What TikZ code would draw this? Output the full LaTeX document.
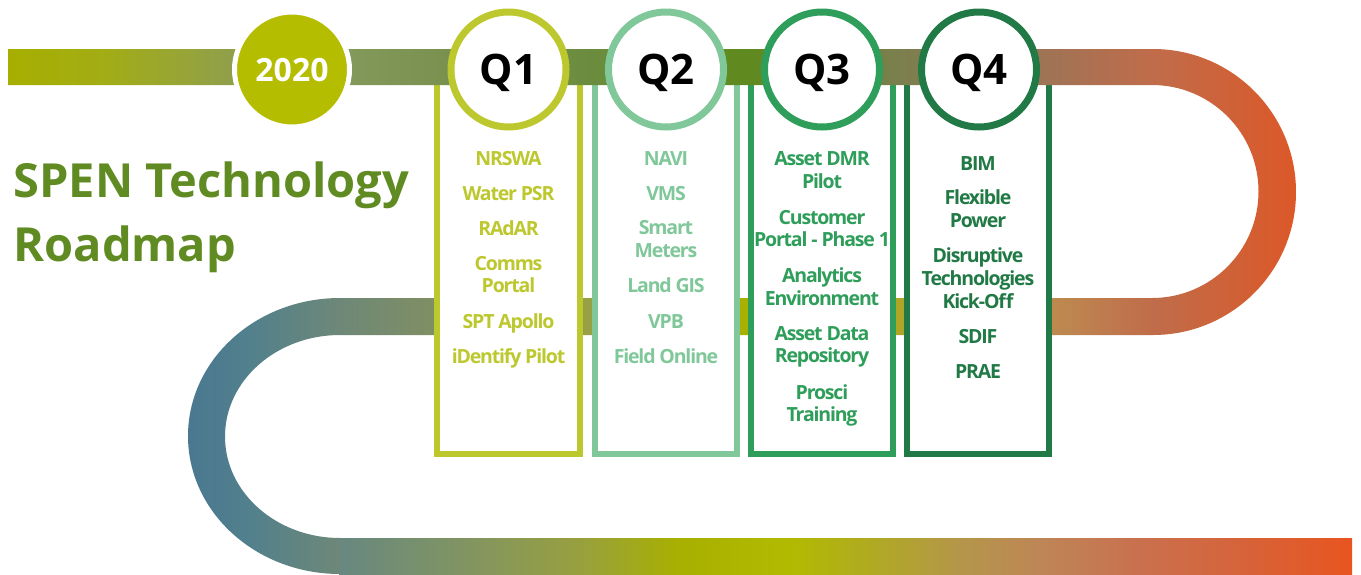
\documentclass[tikz,border=0pt]{standalone}
\usepackage{fontspec}
\setmainfont{Open Sans}
\newfontfamily\itemfont{Open Sans}[LetterSpace=-6]

% colours of the quarters
\definecolor{yr}{HTML}{B5BD00}
\definecolor{q1c}{HTML}{BCC82E}
\definecolor{q2c}{HTML}{80C89A}
\definecolor{q3c}{HTML}{2E9E5A}
\definecolor{q4c}{HTML}{217A45}
\definecolor{titlec}{HTML}{5F8B22}

% top bar and right bend
\definecolor{a1}{HTML}{A6AF00}
\definecolor{a2}{HTML}{A3AD14}
\definecolor{a3}{HTML}{90A04A}
\definecolor{a4}{HTML}{82985A}
\definecolor{a5}{HTML}{7A9150}
\definecolor{a6}{HTML}{6B8C3E}
\definecolor{a7}{HTML}{5F8A1E}
\definecolor{a8}{HTML}{7B7F4E}
\definecolor{a9}{HTML}{A07355}
\definecolor{a10}{HTML}{C06C4A}
\definecolor{a11}{HTML}{DC5828}
% middle band and left bend
\definecolor{b1}{HTML}{4A7890}
\definecolor{b2}{HTML}{52808C}
\definecolor{b3}{HTML}{6E8878}
\definecolor{b4}{HTML}{7D8E66}
\definecolor{b5}{HTML}{98A045}
\definecolor{b6}{HTML}{A8B000}
\definecolor{b7}{HTML}{B0A526}
\definecolor{b8}{HTML}{BD8850}
\definecolor{b9}{HTML}{C06C4A}
% bottom band
\definecolor{c1}{HTML}{4A7890}
\definecolor{c2}{HTML}{688880}
\definecolor{c3}{HTML}{84965E}
\definecolor{c4}{HTML}{98A03E}
\definecolor{c5}{HTML}{A8B000}
\definecolor{c6}{HTML}{B2BA00}
\definecolor{c7}{HTML}{B0AA22}
\definecolor{c8}{HTML}{B4964A}
\definecolor{c9}{HTML}{BE8656}
\definecolor{c10}{HTML}{C87250}
\definecolor{c11}{HTML}{D86238}
\definecolor{c12}{HTML}{E85520}

% stops: 25bp..75bp spans the full picture width
\pgfdeclarehorizontalshading{roadA}{100bp}{color(0bp)=(a1); color(25.29bp)=(a1);
  color(28.67bp)=(a2); color(33.45bp)=(a3); color(38.23bp)=(a4); color(41.16bp)=(a5);
  color(46.68bp)=(a6); color(52.37bp)=(a7); color(58.06bp)=(a8); color(63.57bp)=(a9);
  color(67.36bp)=(a10); color(72.61bp)=(a11); color(100bp)=(a11)}
\pgfdeclarehorizontalshading{roadB}{100bp}{color(0bp)=(b1); color(31.98bp)=(b1);
  color(34.18bp)=(b2); color(37.49bp)=(b3); color(40.43bp)=(b4); color(46.60bp)=(b5);
  color(52.37bp)=(b6); color(58.06bp)=(b7); color(63.94bp)=(b8); color(67.36bp)=(b9);
  color(100bp)=(b9)}
\pgfdeclarehorizontalshading{roadC}{100bp}{color(0bp)=(c1); color(31.98bp)=(c1);
  color(37.49bp)=(c2); color(42.63bp)=(c3); color(46.31bp)=(c4); color(49.98bp)=(c5);
  color(54.02bp)=(c6); color(56.96bp)=(c7); color(60.27bp)=(c8); color(63.21bp)=(c9);
  color(66.51bp)=(c10); color(70.92bp)=(c11); color(74.67bp)=(c12); color(100bp)=(c12)}

\begin{document}
\begin{tikzpicture}[x=1pt,y=1pt,
  qbox/.style={line width=6.5pt, fill=white},
  qcirc/.style={circle, line width=7pt, fill=white, minimum size=115pt, inner sep=0pt,
    font=\bfseries\fontsize{42}{42}\selectfont, text depth=0pt},
  % multi-line items are placed by the baseline of their last line
  item/.style={font=\itemfont\bfseries\fontsize{19.5}{22.7}\selectfont, align=center, anchor=base}]
\useasboundingbox (0,0) rectangle (1361,-574);

% middle band with the left bend
\begin{scope}
  \clip (1153,-298) -- (340,-298)
        arc[start angle=90, end angle=270, x radius=152, y radius=138]
        -- (340,-538)
        arc[start angle=270, end angle=90, x radius=115, y radius=101.5]
        -- (1153,-335) -- cycle;
  \shade[shading=roadB] (0,0) rectangle (1361,-574);
\end{scope}
% bottom band
\begin{scope}
  \clip (339,-538) rectangle (1352,-574);
  \shade[shading=roadC] (0,0) rectangle (1361,-574);
\end{scope}

% quarter boxes
\draw[qbox, draw=q1c] (437,-67) rectangle (580,-454);
\draw[qbox, draw=q2c] (595,-67) rectangle (737,-454);
\draw[qbox, draw=q3c] (751,-67) rectangle (893,-454);
\draw[qbox, draw=q4c] (907,-67) rectangle (1049,-454);

% top bar with the right bend
\begin{scope}
  \clip (8,-49) -- (1153,-49)
        arc[start angle=90, end angle=-90, radius=143]
        -- (1152,-298)
        arc[start angle=-90, end angle=90, radius=106.5]
        -- (8,-85) -- cycle;
  \shade[shading=roadA] (0,0) rectangle (1361,-574);
\end{scope}

% year and quarter markers
\node[circle, fill=yr, draw=white, line width=5pt, minimum size=115pt, inner sep=0pt,
  text=white, font=\bfseries\fontsize{32}{32}\selectfont, text depth=0pt]
  (year) at (292,-69.5) {2020};
\node[qcirc, draw=q1c] (q1) at (508.5,-69.5) {Q1};
\node[qcirc, draw=q2c] (q2) at (666,-69.5) {Q2};
\node[qcirc, draw=q3c] (q3) at (822,-69.5) {Q3};
\node[qcirc, draw=q4c] (q4) at (979,-69.5) {Q4};

% title
\node[anchor=base west, align=left, text=titlec,
  font=\bfseries\fontsize{47}{64}\selectfont] (title) at (10,-261)
  {SPEN Technology\\Roadmap};

% Q1 items
\begin{scope}[every node/.append style={text=q1c}]
\node[item] (i11) at (508.5,-165) {NRSWA};
\node[item] (i12) at (508.5,-200) {Water PSR};
\node[item] (i13) at (508.5,-235) {RAdAR};
\node[item] (i14) at (508.5,-292.7) {Comms\\Portal};
\node[item] (i15) at (508.5,-328.3) {SPT Apollo};
\node[item] (i16) at (508.5,-363.3) {iDentify Pilot};
\end{scope}
% Q2 items
\begin{scope}[every node/.append style={text=q2c}]
\node[item] (i21) at (666,-165) {NAVI};
\node[item] (i22) at (666,-200) {VMS};
\node[item] (i23) at (666,-257.3) {Smart\\Meters};
\node[item] (i24) at (666,-292.7) {Land GIS};
\node[item] (i25) at (666,-328.3) {VPB};
\node[item] (i26) at (666,-363.3) {Field Online};
\end{scope}
% Q3 items
\begin{scope}[every node/.append style={text=q3c}]
\node[item] (i31) at (822,-188.3) {Asset DMR\\Pilot};
\node[item] (i32) at (822,-246.7) {Customer\\Portal - Phase 1};
\node[item] (i33) at (822,-305) {Analytics\\Environment};
\node[item] (i34) at (822,-362.7) {Asset Data\\Repository};
\node[item] (i35) at (822,-421.7) {Prosci\\Training};
\end{scope}
% Q4 items
\begin{scope}[every node/.append style={text=q4c}]
\node[item] (i41) at (978,-170) {BIM};
\node[item] (i42) at (978,-227.3) {Flexible\\Power};
\node[item] (i43) at (978,-308.3) {Disruptive\\Technologies\\Kick-Off};
\node[item] (i44) at (978,-343.3) {SDIF};
\node[item] (i45) at (978,-378.3) {PRAE};
\end{scope}
\end{tikzpicture}
\end{document}
